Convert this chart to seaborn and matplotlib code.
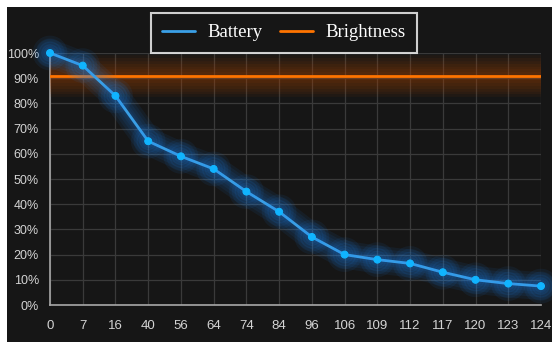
import pandas as pd
import matplotlib.pyplot as plt
import matplotlib.patheffects as pe
from matplotlib.patches import Rectangle
from matplotlib.lines import Line2D
from matplotlib.ticker import PercentFormatter
import seaborn as sns

minutes = ["0", "7", "16", "40", "56", "64", "74", "84", "96", "106", "109", "112", "117", "120", "123", "124"]
battery = [100, 95, 83, 65, 59, 54, 45, 37, 27, 20, 18, 16.5, 13, 10, 8.5, 7.5]
brightness = 91

df = pd.DataFrame({"minute": minutes, "battery": battery})
df["pos"] = range(len(df))

bg = "#161616"
blue = "#3a9fe6"
orange = "#ff7400"
txt = "#d4d4d4"

sns.set_style("dark")
plt.rcParams["font.family"] = ["Liberation Sans", "DejaVu Sans"]

fig = plt.figure(figsize=(5.52, 3.43), dpi=100, facecolor="white")
fig.patches.append(Rectangle((7 / 552, 1 / 343), 545 / 552, 335 / 343, transform=fig.transFigure,
                             facecolor=bg, edgecolor="none", zorder=-5))
ax = fig.add_axes([50 / 552, 38 / 343, 491 / 552, 252 / 343])
ax.set_facecolor(bg)


def glow(color, widths, alpha):
    effects = [pe.Stroke(linewidth=w, foreground=color, alpha=alpha) for w in widths]
    return effects + [pe.Normal()]


# brightness line with a wide soft glow
ax.axhline(brightness, color=orange, lw=2, zorder=3,
           path_effects=glow("#b84a00", [30, 26, 22, 18, 14, 10, 6], 0.07))

sns.lineplot(data=df, x="pos", y="battery", ax=ax, color=blue, lw=2, zorder=4,
             marker="o", markersize=5, markerfacecolor="#10b4ff", markeredgecolor="#10b4ff",
             clip_on=False,
             path_effects=glow("#1a8cff", [20, 16, 12, 8, 5], 0.07))

ax.set_xlim(0, len(minutes) - 1)
ax.set_ylim(0, 100)
ax.set_xticks(df["pos"])
ax.set_xticklabels(minutes)
ax.set_yticks(range(0, 101, 10))
ax.yaxis.set_major_formatter(PercentFormatter(decimals=0))
ax.set_xlabel("")
ax.set_ylabel("")

ax.grid(True, color="#3a3a3a", lw=0.9)
ax.set_axisbelow(True)
for s in ["top", "right"]:
    ax.spines[s].set_visible(False)
for s in ["left", "bottom"]:
    ax.spines[s].set_visible(True)
    ax.spines[s].set_color("#a8a8a8")
    ax.spines[s].set_linewidth(1.2)

ax.tick_params(axis="y", direction="in", length=3, color="#a8a8a8", labelsize=9, labelcolor=txt, pad=8)
ax.tick_params(axis="x", length=0, labelsize=9.5, labelcolor=txt, pad=11)

handles = [Line2D([], [], color=blue, lw=2), Line2D([], [], color=orange, lw=2)]
leg = fig.legend(handles, ["Battery", "Brightness"], loc="upper center", bbox_to_anchor=(284 / 552, 1 - 13 / 343),
                 ncol=2, frameon=True, fancybox=False, facecolor=bg, edgecolor="white",
                 prop={"family": "Liberation Serif", "size": 13.5}, labelcolor="white",
                 handlelength=1.75, handletextpad=0.7, columnspacing=0.9,
                 borderpad=0.6, borderaxespad=0)
leg.get_frame().set_linewidth(1.5)

fig.savefig("out.png", dpi=100, facecolor=fig.get_facecolor())
